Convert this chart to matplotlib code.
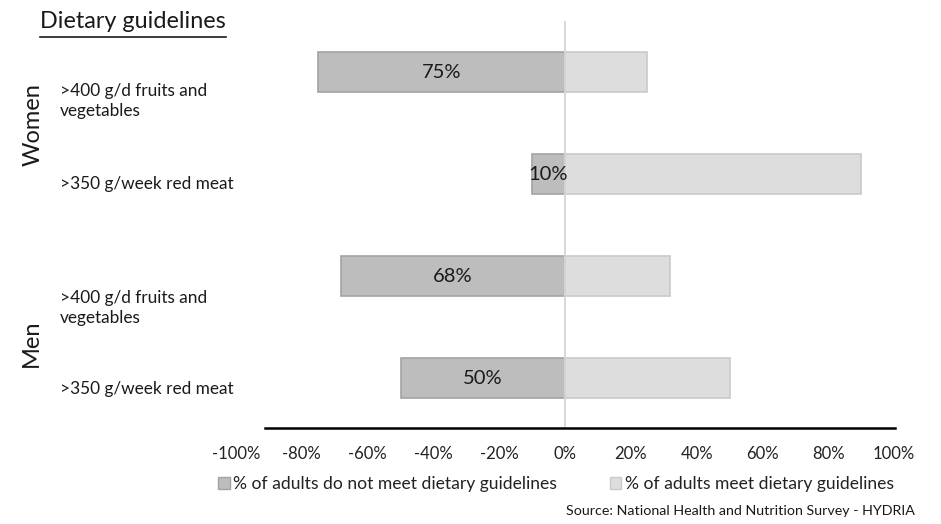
import matplotlib
matplotlib.use("Agg")
import matplotlib.pyplot as plt
from matplotlib.patches import Patch
from matplotlib.lines import Line2D

plt.rcParams['font.family'] = ['Lato', 'DejaVu Sans']

groups = ["Women", "Men"]
categories = [">400 g/d fruits and\nvegetables", ">350 g/week red meat",
              ">400 g/d fruits and\nvegetables", ">350 g/week red meat"]
not_meet = [75, 10, 68, 50]
meet = [25, 90, 32, 50]
series_names = ["% of adults do not meet dietary guidelines", "% of adults meet dietary guidelines"]
xticks = [-100, -80, -60, -40, -20, 0, 20, 40, 60, 80, 100]
title = "Dietary guidelines"
source = "Source: National Health and Nutrition Survey - HYDRIA"

W, H = 941, 524
fig = plt.figure(figsize=(W/100, H/100), dpi=100)

def fx(px):
    return px / W

def fy(py):
    return 1 - py / H

ax = fig.add_axes([fx(236), fy(429), fx(894 - 236), (429 - 21) / H])
y = list(range(len(categories)))
dark_fc, dark_ec = "#bdbdbd", "#a3a3a3"
light_fc, light_ec = "#dddddd", "#c9c9c9"

ax.barh(y, [-v for v in not_meet], height=0.4, color=dark_fc, edgecolor=dark_ec, linewidth=1.2, zorder=2)
ax.barh(y, meet, height=0.4, color=light_fc, edgecolor=light_ec, linewidth=1.2, zorder=2)
for yi, v in zip(y, not_meet):
    ax.text(-v / 2, yi, f"{v}%", ha="center", va="center", fontsize=14.5, color="#1a1a1a", zorder=4)

ax.axvline(0, color="#d4d4d4", linewidth=1.3, zorder=3)
ax.set_xlim(-100, 100)
ax.set_ylim(3.5, -0.5)
for s in ax.spines.values():
    s.set_visible(False)
ax.set_yticks([])
ax.set_xticks(xticks)
ax.set_xticklabels([f"{t}%" for t in xticks], fontsize=12, color="#222222")
ax.tick_params(axis="x", length=0, pad=12)

# bottom axis line
fig.add_artist(Line2D([fx(265), fx(895)], [fy(428), fy(428)], color="black", linewidth=1.8))

# category labels
label_py = [101, 184, 308, 389]
for lab, py in zip(categories, label_py):
    fig.text(fx(60), fy(py), lab, ha="left", va="center", fontsize=12.4, color="#1a1a1a", linespacing=1.3)

fig.text(fx(33), fy(125), groups[0], rotation=90, ha="center", va="center", fontsize=17, color="#1a1a1a")
fig.text(fx(31), fy(343), groups[1], rotation=90, ha="center", va="center", fontsize=17, color="#1a1a1a")

# title with underline
t = fig.text(fx(40), fy(22), title, ha="left", va="center", fontsize=16.8, color="#1a1a1a")
fig.canvas.draw()
bb = t.get_window_extent()
fig.add_artist(Line2D([bb.x0 / W, bb.x1 / W], [fy(37), fy(37)], color="#1a1a1a", linewidth=1.2))

# legend
handles = [Patch(facecolor=dark_fc, edgecolor=dark_ec), Patch(facecolor=light_fc, edgecolor=light_ec)]
fig.legend(handles, series_names, loc="center", bbox_to_anchor=(fx(556), fy(484)), ncol=2,
           frameon=False, fontsize=12.6, handlelength=0.65, handleheight=0.65, handletextpad=0.2,
           columnspacing=3.0, labelcolor="#222222")

fig.text(fx(915), fy(511), source, ha="right", va="center", fontsize=10.3, color="#1a1a1a")

fig.savefig("out.png", dpi=100)
